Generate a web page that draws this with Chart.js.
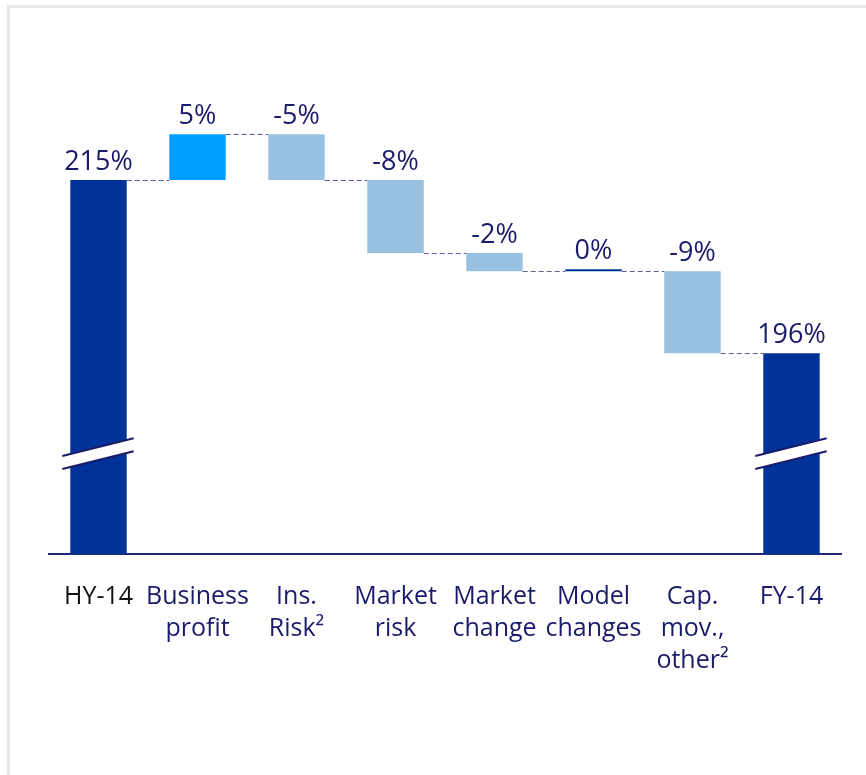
<!DOCTYPE html>
<html>
<head>
<meta charset="utf-8">
<title>Solvency ratio bridge</title>
<script src="https://cdn.jsdelivr.net/npm/chart.js@4"></script>
<style>
  html, body { margin: 0; padding: 0; background: #fff; }
  #wrap { position: relative; width: 866px; height: 775px; }
  #frame {
    position: absolute; left: 7px; top: 5px; right: 0; bottom: 0;
    border-left: 3px solid #e4e9e8; border-top: 3px solid #e4e9e8;
    pointer-events: none;
  }
</style>
</head>
<body>
<div id="wrap">
  <canvas id="bridge"></canvas>
  <div id="frame"></div>
</div>
<script>
// bridge HY-14 -> FY-14, in % points
const categories = [
  ['HY-14'], ['Business', 'profit'], ['Ins.', 'Risk²'], ['Market', 'risk'],
  ['Market', 'change'], ['Model', 'changes'], ['Cap.', 'mov.,', 'other²'], ['FY-14']
];
const openingRatio = 215;
const movements = [5, -5, -8, -2, 0, -9];
const closingRatio = 196;
const valueLabels = ['215%', '5%', '-5%', '-8%', '-2%', '0%', '-9%', '196%'];

// truncated axis: totals are cut with a break mark
const axisMin = 174;
const axisMax = 230;
const breakAt = 185;

const DARK = '#003399';
const BRIGHT = '#009fff';
const LIGHT = '#99c1e2';
const NAVY = '#1b1b6b';

// floating ranges [from, to] for every bar
let level = openingRatio;
const ranges = [[axisMin, openingRatio]];
const colors = [DARK];
movements.forEach(m => {
  ranges.push([level, level + m]);
  colors.push(m > 0 ? BRIGHT : (m < 0 ? LIGHT : DARK));
  level += m;
});
ranges.push([axisMin, closingRatio]);
colors.push(DARK);

const bridgePlugin = {
  id: 'bridge',
  afterDatasetsDraw(chart) {
    const ctx = chart.ctx;
    const bars = chart.getDatasetMeta(0).data;
    const y = chart.scales.y;

    // dashed connectors between neighbouring bars
    ctx.save();
    ctx.strokeStyle = '#5c5c98';
    ctx.lineWidth = 1;
    ctx.setLineDash([5, 3]);
    for (let i = 0; i < bars.length - 1; i++) {
      const a = bars[i], b = bars[i + 1];
      const py = Math.round(y.getPixelForValue(ranges[i][1])) + 0.5;
      ctx.beginPath();
      ctx.moveTo(a.x + a.width / 2, py);
      ctx.lineTo(b.x - b.width / 2, py);
      ctx.stroke();
    }
    ctx.restore();

    // axis break on the two total bars
    [0, bars.length - 1].forEach(i => {
      const bar = bars[i];
      const cy = y.getPixelForValue(breakAt);
      const xl = bar.x - bar.width / 2 - 8;
      const xr = bar.x + bar.width / 2 + 7;
      const dy = (xr - xl) * 0.25 / 2;
      ctx.save();
      ctx.fillStyle = '#fff';
      ctx.beginPath();
      ctx.moveTo(xl, cy - 6.5 + dy);
      ctx.lineTo(xr, cy - 6.5 - dy);
      ctx.lineTo(xr, cy + 6.5 - dy);
      ctx.lineTo(xl, cy + 6.5 + dy);
      ctx.closePath();
      ctx.fill();
      ctx.strokeStyle = NAVY;
      ctx.lineWidth = 2;
      [-6.5, 6.5].forEach(off => {
        ctx.beginPath();
        ctx.moveTo(xl, cy + off + dy);
        ctx.lineTo(xr, cy + off - dy);
        ctx.stroke();
      });
      ctx.restore();
    });

    // value labels above each bar
    ctx.save();
    ctx.font = '27px "Open Sans", "Noto Sans", sans-serif';
    ctx.fillStyle = NAVY;
    ctx.textAlign = 'center';
    ctx.textBaseline = 'alphabetic';
    bars.forEach((bar, i) => {
      const top = Math.min(bar.y, bar.base);
      ctx.fillText(valueLabels[i], bar.x, top - 10);
    });
    ctx.restore();
  }
};

new Chart(document.getElementById('bridge'), {
  type: 'bar',
  data: {
    labels: categories,
    datasets: [{
      data: ranges,
      backgroundColor: colors,
      borderWidth: 0,
      minBarLength: 2,
      categoryPercentage: 1,
      barPercentage: 0.57
    }]
  },
  options: {
    responsive: true,
    maintainAspectRatio: false,
    animation: false,
    layout: { padding: { left: 49, right: 25, top: 43, bottom: 79 } },
    plugins: { legend: { display: false }, tooltip: { enabled: false } },
    scales: {
      x: {
        grid: { display: false },
        border: { display: true, color: '#262678', width: 2 },
        ticks: {
          autoSkip: false,
          maxRotation: 0,
          padding: 19,
          color: c => c.index === 0 ? '#111111' : NAVY,
          font: { family: '"Open Sans", "Noto Sans", sans-serif', size: 25, lineHeight: 1.28 }
        }
      },
      y: {
        display: false,
        min: axisMin,
        max: axisMax
      }
    }
  },
  plugins: [bridgePlugin]
});
</script>
</body>
</html>
